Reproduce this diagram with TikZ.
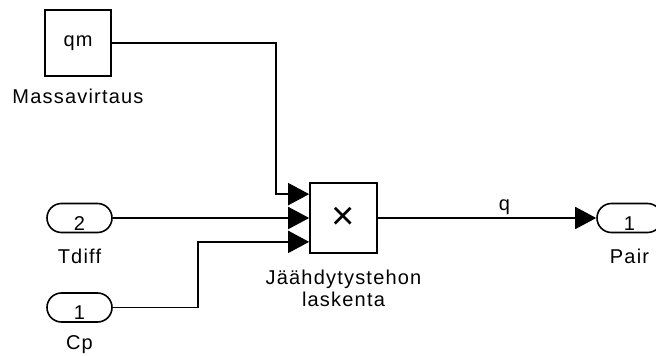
\documentclass[tikz,border=0pt]{standalone}
\usepackage{fontspec}
\setmainfont{Liberation Sans}[LetterSpace=6]
\usetikzlibrary{arrows.meta,shapes.misc,calc}
\begin{document}
\begin{tikzpicture}[x=1pt,y=-1pt,
  every node/.style={font=\fontsize{20}{22}\selectfont},
  blk/.style={draw,line width=1.6pt,inner sep=0pt},
  port/.style={draw,line width=1.6pt,rounded rectangle,inner sep=0pt,
    minimum width=65pt,minimum height=29pt,text height=24pt,text depth=0pt},
  lbl/.style={anchor=base,inner sep=0pt,align=center},
  wire/.style={line width=1.6pt,-{Triangle[length=21pt,width=22pt]}},
  plain/.style={line width=1.6pt}]
\useasboundingbox (0,0) rectangle (656,356);
\clip (0,0) rectangle (656,356);
% blocks
\node[blk,minimum width=66pt,minimum height=66pt] (qm) at (78,43) {qm};
\node[lbl] (qml) at ([yshift=-27pt]qm.south) {Massavirtaus};
\node[port] (tdiff) at (79.5,218) {2};
\node[lbl] (tdiffl) at ([yshift=-30pt]tdiff.south) {Tdiff};
\node[port] (cp) at (79.5,307.5) {1};
\node[lbl] (cpl) at ([yshift=-27pt]cp.south) {Cp};
\node[blk,minimum width=67pt,minimum height=70pt,font=\fontsize{40}{40}\selectfont] (prod) at (343.5,218) {×};
\node[lbl] (prodl) at ([yshift=-53pt]prod.south) {Jäähdytystehon\\laskenta};
\node[port] (pair) at (629.5,218) {1};
\node[lbl] (pairl) at ([yshift=-30pt]pair.south) {Pair};
% input ports of product
\coordinate (p1) at ($(prod.north west)!1/6!(prod.south west)$);
\coordinate (p2) at ($(prod.north west)!3/6!(prod.south west)$);
\coordinate (p3) at ($(prod.north west)!5/6!(prod.south west)$);
% connectors
\draw[wire] (qm.east) -| ([xshift=-33pt]p1) -- (p1);
\draw[wire] (tdiff.east) -- (p2);
\draw[wire] (cp.east) -| ([xshift=-111pt]p3) -- (p3);
\draw[wire] (prod.east) -- node[pos=0.58,anchor=base,yshift=8pt,inner sep=0pt]{q} (pair.west);
\end{tikzpicture}
\end{document}
